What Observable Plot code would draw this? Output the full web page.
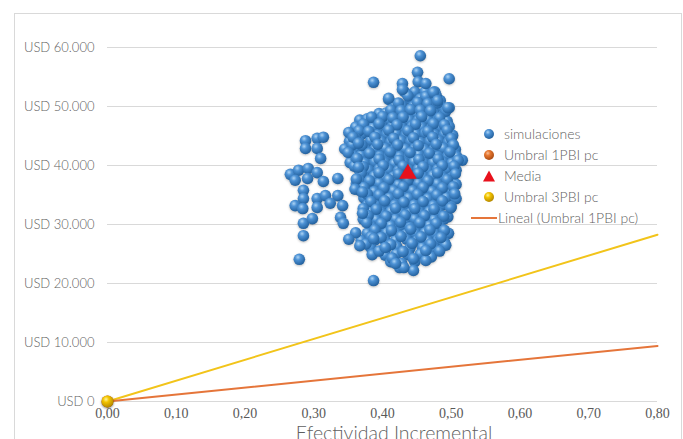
<!DOCTYPE html>
<html><head><meta charset="utf-8">
<script src="https://cdn.jsdelivr.net/npm/d3@7"></script>
<script src="https://cdn.jsdelivr.net/npm/@observablehq/plot@0.6"></script>
<style>
body{margin:0;background:#fff;}
#wrap{position:relative;width:683px;height:439px;overflow:hidden;font-family:Lato,"Open Sans",sans-serif;}
#frame{position:absolute;left:14px;top:13px;width:666px;height:460px;border:1px solid #d9d9d9;}
#legend{position:absolute;left:481px;top:123px;font-size:14px;color:#5f5f5f;font-weight:300;}
#legend .row{height:21px;display:flex;align-items:center;white-space:nowrap;}
#legend svg{width:18px;height:14px;margin-right:5px;flex:none;}
#xtitle{position:absolute;left:394px;top:421px;transform:translateX(-50%);font-size:19.5px;color:#5f5f5f;font-weight:300;white-space:nowrap;}
</style></head>
<body><div id="wrap"><div id="frame"></div></div>
<script>
// ---------- data ----------
const xTicks = [0, 0.1, 0.2, 0.3, 0.4, 0.5, 0.6, 0.7, 0.8];
const yTicks = [0, 10000, 20000, 30000, 40000, 50000, 60000];
const seriesNames = ["simulaciones", "Umbral 1PBI pc", "Media", "Umbral 3PBI pc", "Lineal (Umbral 1PBI pc)"];
const media = [[0.437, 38600]];
const umbralX = [0, 0.8];
const umbral1Y = [0, 9420];
const umbral3Y = [0, 28270];
// simulaciones: [efectividad incremental, costo incremental USD]
const simCore = [
[0.432,52500],[0.447,52500],[0.462,52500],[0.476,52500],
[0.409,51200],[0.440,51200],[0.455,51300],[0.468,51200],[0.484,51000],
[0.418,50000],[0.428,50100],[0.445,50000],[0.458,49900],[0.471,50000],[0.486,49900],[0.497,49800],
[0.395,48800],[0.405,48900],[0.420,48800],[0.434,48700],[0.449,48800],[0.462,48900],[0.475,48800],[0.489,48600],
[0.367,47700],[0.378,47900],[0.392,47600],[0.411,47700],[0.425,47500],[0.439,47700],[0.452,47600],[0.466,47800],[0.480,47600],[0.494,47500],
[0.361,46500],[0.386,46400],[0.399,46600],[0.414,46500],[0.428,46400],[0.443,46600],[0.457,46500],[0.471,46300],[0.485,46500],[0.497,46600],
[0.356,45300],[0.371,45400],[0.393,45200],[0.406,45300],[0.420,45400],[0.434,45200],[0.449,45300],[0.462,45500],[0.476,45200],[0.490,45300],[0.502,45100],
[0.352,44100],[0.366,44000],[0.383,44200],[0.398,44100],[0.412,44000],[0.427,44200],[0.441,44100],[0.455,43900],[0.469,44100],[0.482,44200],[0.496,44000],
[0.345,42800],[0.361,42900],[0.375,42700],[0.389,42800],[0.404,42900],[0.418,42700],[0.433,42800],[0.447,42900],[0.461,42700],[0.475,42800],[0.489,42900],[0.506,42700],
[0.358,41600],[0.369,41700],[0.382,41500],[0.396,41600],[0.410,41700],[0.425,41500],[0.439,41600],[0.453,41800],[0.467,41600],[0.481,41500],[0.495,41600],[0.508,41500],
[0.353,40500],[0.374,40400],[0.389,40600],[0.403,40500],[0.417,40300],[0.431,40500],[0.446,40600],[0.460,40400],[0.474,40500],[0.488,40600],[0.501,40400],[0.516,40900],
[0.366,39300],[0.380,39200],[0.395,39400],[0.409,39300],[0.423,39100],[0.438,39300],[0.452,39400],[0.466,39200],[0.480,39300],[0.494,39400],[0.507,39200],
[0.373,38100],[0.388,38200],[0.402,38000],[0.416,38100],[0.430,38200],[0.445,38000],[0.459,38100],[0.473,38300],[0.487,38100],[0.501,38000],
[0.362,36900],[0.381,36800],[0.395,37000],[0.409,36900],[0.423,36700],[0.437,36900],[0.452,37000],[0.466,36800],[0.480,36900],[0.494,37000],[0.507,36800],
[0.368,35700],[0.388,35600],[0.402,35800],[0.416,35700],[0.430,35500],[0.444,35700],[0.458,35800],[0.472,35600],[0.486,35700],[0.499,35800],
[0.373,34500],[0.383,34400],[0.396,34600],[0.410,34500],[0.424,34300],[0.438,34500],[0.452,34600],[0.466,34400],[0.480,34500],[0.493,34600],[0.507,34400],
[0.378,33300],[0.391,33200],[0.404,33400],[0.418,33300],[0.432,33100],[0.446,33300],[0.460,33400],[0.474,33200],[0.487,33300],[0.500,33000],
[0.384,32100],[0.398,32000],[0.412,32200],[0.426,32100],[0.440,31900],[0.454,32100],[0.468,32200],[0.481,32000],[0.495,31300],
[0.372,30900],[0.391,30800],[0.405,31000],[0.419,30900],[0.433,30700],[0.447,30900],[0.461,31000],[0.475,30800],[0.489,30900],
[0.384,29700],[0.398,29600],[0.412,29800],[0.426,29700],[0.440,29500],[0.454,29700],[0.468,29800],[0.483,29600],
[0.378,28500],[0.392,28400],[0.406,28600],[0.420,28500],[0.434,28300],[0.448,28500],[0.462,28600],[0.476,28400],[0.496,28500],
[0.369,27300],[0.389,27400],[0.404,27200],[0.419,27300],[0.435,27500],[0.451,27300],[0.466,27200],[0.481,27400],[0.490,27000],
[0.383,26100],[0.405,26000],[0.421,26200],[0.440,26000],[0.458,26100],[0.475,26000],[0.492,26500],
[0.385,24900],[0.404,24800],[0.420,25000],[0.437,24900],[0.455,25000],[0.471,24500],
[0.412,23700],[0.428,23400],[0.447,23700],[0.463,23900],
[0.425,22700],[0.445,22200]
];
const simFill = [
[0.437,51800],[0.463,51700],[0.478,51900],
[0.423,50600],[0.451,50700],[0.466,50500],[0.480,50600],
[0.412,49400],[0.427,49300],[0.441,49500],[0.455,49400],[0.470,49300],[0.492,49200],
[0.384,48200],[0.400,48300],[0.415,48100],[0.430,48200],[0.457,48300],[0.483,48100],
[0.372,47000],[0.395,47100],[0.421,46900],[0.448,47000],[0.474,47100],[0.490,46900],
[0.366,45900],[0.380,45800],[0.409,46000],[0.437,45900],[0.466,45800],[0.494,46000],
[0.360,44700],[0.389,44800],[0.416,44600],[0.445,44700],[0.473,44800],[0.500,44600],
[0.356,43500],[0.370,43400],[0.393,43600],[0.422,43500],[0.452,43400],[0.478,43600],[0.503,43500],
[0.350,42200],[0.381,42100],[0.411,42300],[0.440,42200],[0.468,42100],[0.498,42300],
[0.362,41000],[0.395,41100],[0.424,40900],[0.453,41000],[0.481,41100],[0.510,40900],
[0.359,39900],[0.372,39800],[0.401,40000],[0.430,39900],[0.459,39800],[0.487,40000],[0.504,39900],
[0.369,38700],[0.395,38800],[0.423,38600],[0.452,38700],[0.480,38800],[0.506,38600],
[0.366,37500],[0.381,37400],[0.409,37600],[0.437,37500],[0.466,37400],[0.494,37600],
[0.373,36300],[0.402,36200],[0.430,36400],[0.459,36300],[0.487,36200],[0.503,36400],
[0.378,35100],[0.395,35000],[0.423,35200],[0.451,35100],[0.479,35000],[0.505,35200],
[0.383,33900],[0.403,34000],[0.431,33800],[0.459,33900],[0.487,34000],
[0.372,32700],[0.391,32600],[0.419,32800],[0.447,32700],[0.475,32600],[0.499,32800],
[0.379,31500],[0.405,31400],[0.433,31600],[0.461,31500],[0.489,31400],
[0.377,30300],[0.398,30200],[0.426,30400],[0.454,30300],[0.478,30200],
[0.389,29100],[0.413,29000],[0.441,29200],[0.469,29100],[0.490,29000],
[0.383,27900],[0.398,27800],[0.427,28000],[0.456,27900],[0.485,27800],
[0.376,26700],[0.412,26600],[0.443,26800],[0.470,26700],
[0.395,25500],[0.430,25400],[0.463,25600],[0.483,25500],
[0.414,24300],[0.445,24200]
];
const simExtra = [
[0.455,58600],[0.451,55800],[0.452,54200],[0.463,53900],[0.429,53900],[0.429,52900],[0.497,54700],[0.387,54100],
[0.474,52400],[0.480,51000],[0.495,49800],[0.409,51400],
[0.351,45600],[0.357,44800],[0.365,43800],[0.363,41200],[0.365,39700],[0.362,37700],[0.360,36000],[0.371,35500],
[0.288,44200],[0.305,44600],[0.314,44800],[0.288,42900],[0.305,42900],[0.310,41200],
[0.266,38500],[0.278,39200],[0.292,39500],[0.305,38800],[0.273,37500],[0.291,37800],[0.314,37300],[0.335,37800],
[0.285,35800],[0.285,34400],[0.305,34400],[0.317,34900],[0.335,34900],[0.273,33200],[0.284,32700],[0.305,32900],
[0.324,33600],[0.342,33200],[0.285,30200],[0.298,31000],[0.285,28100],[0.279,24100],[0.339,31200],[0.343,30200],
[0.361,28600],[0.351,27500],[0.367,26400],[0.371,31900],[0.387,20500],[0.387,27600],[0.404,26100],[0.431,22700],[0.419,23400]
];
const simulaciones = simCore.concat(simFill, simExtra);

// ---------- chart ----------
const fmtY = d => "USD " + d3.format(",")(d).replace(/,/g, ".");
const fmtX = d => d3.format(".2f")(d).replace(".", ",");
const lineData = (ys) => umbralX.map((x, i) => ({x, y: ys[i]}));

const chart = Plot.plot({
  width: 683, height: 439,
  marginLeft: 107, marginRight: 26, marginTop: 47, marginBottom: 38,
  style: {background: "transparent", overflow: "visible"},
  x: {domain: [0, 0.8]},
  y: {domain: [0, 60000]},
  marks: [
    Plot.ruleY(yTicks, {stroke: "#d9d9d9", strokeWidth: 1}),
    Plot.line(lineData(umbral3Y), {x: "x", y: "y", stroke: "#f2c41a", strokeWidth: 2}),
    Plot.line(lineData(umbral1Y), {x: "x", y: "y", stroke: "#e5753a", strokeWidth: 2}),
    Plot.dot(simulaciones, {x: d => d[0], y: d => d[1], r: 5.8, fill: "url(#gBlue)", stroke: "none"}),
    Plot.dot(media, {x: d => d[0], y: d => d[1], symbol: "triangle", r: 6.5, fill: "#e8111c", stroke: "none"}),
    Plot.dot([{x: umbralX[0], y: umbral1Y[0]}], {x: "x", y: "y", r: 6, fill: "url(#gOrange)"}),
    Plot.dot([{x: umbralX[0], y: umbral3Y[0]}], {x: "x", y: "y", r: 6, fill: "url(#gYellow)"}),
    Plot.axisY(yTicks, {tickSize: 0, tickPadding: 13, tickFormat: fmtY, label: null,
      fontSize: 13, fill: "#5f5f5f", fontFamily: "Lato", fontWeight: 300}),
    Plot.axisX(xTicks, {tickSize: 0, tickPadding: 7, tickFormat: fmtX, label: null,
      fontSize: 14, fill: "#595959", fontFamily: "Liberation Serif"})
  ]
});

const defs = `
<radialGradient id="gBlue" cx="0.38" cy="0.32" r="0.7">
  <stop offset="0" stop-color="#acd3f4"/><stop offset="0.35" stop-color="#4d92d5"/><stop offset="1" stop-color="#215f9c"/>
</radialGradient>
<radialGradient id="gOrange" cx="0.38" cy="0.32" r="0.7">
  <stop offset="0" stop-color="#f8c09a"/><stop offset="0.35" stop-color="#e7772f"/><stop offset="1" stop-color="#a84a12"/>
</radialGradient>
<radialGradient id="gYellow" cx="0.38" cy="0.32" r="0.7">
  <stop offset="0" stop-color="#fff59a"/><stop offset="0.35" stop-color="#f3c400"/><stop offset="1" stop-color="#b38600"/>
</radialGradient>`;
d3.select(chart).insert("defs", ":first-child").html(defs);
d3.select(chart).selectAll("g[aria-label=dot]").style("filter", "drop-shadow(0.8px 1.5px 1px rgba(0,0,0,0.25))");
chart.style.position = "absolute";
chart.style.left = "0px";
chart.style.top = "0px";
const wrap = document.getElementById("wrap");
wrap.appendChild(chart);

// legend
const icons = [
  '<svg viewBox="0 0 18 14"><circle cx="8" cy="7" r="5" fill="url(#gBlue)"/></svg>',
  '<svg viewBox="0 0 18 14"><circle cx="8" cy="7" r="5" fill="url(#gOrange)"/></svg>',
  '<svg viewBox="0 0 18 14"><path d="M8 1.5 L14 12.5 L2 12.5 Z" fill="#e8111c"/></svg>',
  '<svg viewBox="0 0 18 14"><circle cx="8" cy="7" r="5" fill="url(#gYellow)"/></svg>',
  '<svg viewBox="0 0 26 14" style="width:26px;margin-left:-10px;margin-right:1px"><line x1="0" x2="26" y1="7" y2="7" stroke="#e5753a" stroke-width="2"/></svg>'
];
const legend = document.createElement("div");
legend.id = "legend";
legend.innerHTML = seriesNames.map((n, i) => `<div class="row">${icons[i]}<span>${n}</span></div>`).join("");
wrap.appendChild(legend);

const xt = document.createElement("div");
xt.id = "xtitle";
xt.textContent = "Efectividad Incremental";
wrap.appendChild(xt);
</script></body></html>
